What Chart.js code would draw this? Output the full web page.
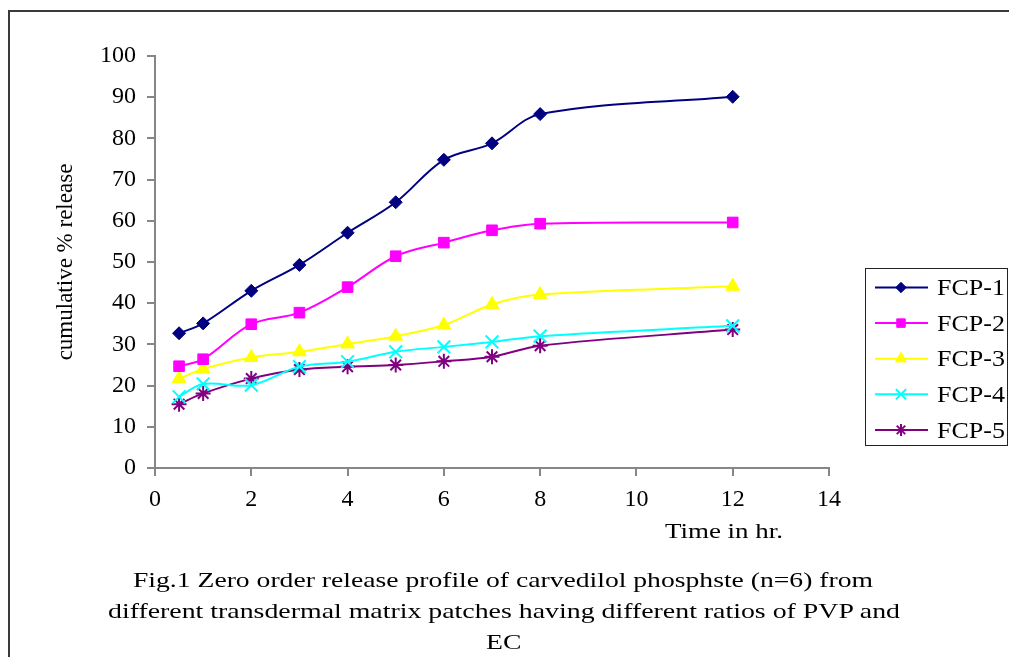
<!DOCTYPE html>
<html>
<head>
<meta charset="utf-8">
<script src="https://cdn.jsdelivr.net/npm/chart.js@4.4.0/dist/chart.umd.min.js"></script>
<style>
  html, body { margin: 0; padding: 0; background: #fff; width: 1009px; height: 657px; overflow: hidden; }
  #wrap { position: relative; width: 1009px; height: 657px; overflow: hidden; }
  #frame { position: absolute; left: 8px; top: 10px; width: 1020px; height: 700px;
           border-top: 2px solid #3a3a3a; border-left: 2px solid #3a3a3a; }
  #chart { position: absolute; left: 0; top: 0; }
  .txt { position: absolute; font-family: "Liberation Serif", "Times New Roman", serif; font-size: 22px;
         line-height: 31px; color: #000; white-space: nowrap; transform-origin: 0 0; }
</style>
</head>
<body>
<div id="wrap">
  <div id="frame"></div>
  <canvas id="chart" width="1009" height="657"></canvas>
  <div class="txt" id="xTitle" style="top:515px;">Time in hr.</div>
  <div class="txt" id="cap1" style="top:564px;">Fig.1 Zero order release profile of carvedilol phosphste (n=6) from</div>
  <div class="txt" id="cap2" style="top:595px;">different transdermal matrix patches having different ratios of PVP and</div>
  <div class="txt" id="cap3" style="top:626px;">EC</div>
</div>
<script>
// 数据
const timeHr = [0.5, 1, 2, 3, 4, 5, 6, 7, 8, 12];
const fcp1 = [32.7, 35.1, 43.0, 49.3, 57.1, 64.5, 74.8, 78.8, 85.9, 90.1];
const fcp2 = [24.7, 26.4, 34.9, 37.7, 43.9, 51.4, 54.7, 57.7, 59.3, 59.6];
const fcp3 = [21.7, 24.0, 26.8, 28.2, 30.1, 32.0, 34.7, 39.7, 42.1, 44.1];
const fcp4 = [17.3, 20.4, 20.1, 24.6, 25.8, 28.2, 29.4, 30.6, 32.0, 34.5];
const fcp5 = [15.5, 18.1, 21.7, 23.9, 24.6, 25.0, 25.9, 27.0, 29.7, 33.6];

const seriesNames = ['FCP-1', 'FCP-2', 'FCP-3', 'FCP-4', 'FCP-5'];
const seriesValues = [fcp1, fcp2, fcp3, fcp4, fcp5];
const seriesColors = ['#000080', '#ff00ff', '#ffff00', '#00ffff', '#800080'];
const seriesMarkers = ['rectRot', 'rect', 'triangle', 'crossRot', 'star'];
const markerRadius = [6.5, 7.5, 8, 9, 7.5];

const serif = '"Liberation Serif", "Times New Roman", serif';

// 把文字横向拉伸到参考图的宽度
function stretchText(id, left, width) {
    const el = document.getElementById(id);
    const w = el.getBoundingClientRect().width;
    el.style.left = left + 'px';
    el.style.transform = 'scaleX(' + (width / w) + ')';
    return width / w;
}
const capScale = stretchText('cap1', 133, 740);
stretchText('cap2', 108, 792);
stretchText('xTitle', 665, 118);
(function() {
    const el = document.getElementById('cap3');
    const w = el.getBoundingClientRect().width * capScale;
    el.style.left = (504 - w / 2) + 'px';
    el.style.transform = 'scaleX(' + capScale + ')';
})();

// 图例（带边框，线 + 标记）
const boxLegend = {
    id: 'boxLegend',
    afterDraw(chart) {
        const ctx = chart.ctx;
        ctx.save();
        ctx.strokeStyle = '#222';
        ctx.lineWidth = 1;
        ctx.strokeRect(865.5, 268.5, 142, 177);
        chart.data.datasets.forEach((ds, i) => {
            const y = 287.5 + i * 35.6;
            ctx.strokeStyle = ds.borderColor;
            ctx.lineWidth = 2;
            ctx.beginPath();
            ctx.moveTo(875, y);
            ctx.lineTo(928, y);
            ctx.stroke();
            if (Chart.helpers && Chart.helpers.drawPoint) {
                ctx.fillStyle = ds.pointBackgroundColor;
                ctx.strokeStyle = ds.pointBorderColor;
                ctx.lineWidth = ds.pointBorderWidth;
                Chart.helpers.drawPoint(ctx, {
                    pointStyle: ds.pointStyle,
                    radius: ds.pointRadius * 0.8,
                    borderWidth: ds.pointBorderWidth,
                    rotation: 0
                }, 901, y);
            }
            ctx.save();
            ctx.translate(937, y + 7.7);
            ctx.scale(1.13, 1);
            ctx.fillStyle = '#000';
            ctx.font = '23px ' + serif;
            ctx.textBaseline = 'alphabetic';
            ctx.fillText(ds.label, 0, 0);
            ctx.restore();
        });
        ctx.restore();
    }
};

const datasets = seriesNames.map((name, i) => ({
    label: name,
    data: timeHr.map((t, j) => ({ x: t, y: seriesValues[i][j] })),
    borderColor: seriesColors[i],
    backgroundColor: seriesColors[i],
    borderWidth: 2,
    tension: 0.35,
    fill: false,
    pointStyle: seriesMarkers[i],
    pointRadius: markerRadius[i],
    pointBackgroundColor: seriesColors[i],
    pointBorderColor: seriesColors[i],
    pointBorderWidth: (seriesMarkers[i] === 'crossRot' || seriesMarkers[i] === 'star') ? 2 : 1
}));

const axisGray = '#868686';

new Chart(document.getElementById('chart'), {
    type: 'line',
    data: { datasets: datasets },
    plugins: [boxLegend],
    options: {
        responsive: false,
        devicePixelRatio: 1,
        animation: false,
        layout: { padding: { top: 56, right: 180, bottom: 0, left: 0 } },
        plugins: {
            legend: { display: false },
            tooltip: { enabled: false }
        },
        scales: {
            x: {
                type: 'linear',
                min: 0,
                max: 14,
                afterFit: function(scale) { scale.height = 189; },
                ticks: {
                    stepSize: 2,
                    color: '#000',
                    padding: 9,
                    maxRotation: 0,
                    font: { family: serif, size: 24 }
                },
                grid: { drawOnChartArea: false, drawTicks: true, tickLength: 8, color: axisGray, lineWidth: 2 },
                border: { display: true, color: axisGray, width: 2 }
            },
            y: {
                min: 0,
                max: 100,
                afterFit: function(scale) { scale.width = 155; },
                ticks: {
                    stepSize: 10,
                    color: '#000',
                    padding: 11,
                    font: { family: serif, size: 24 }
                },
                grid: { drawOnChartArea: false, drawTicks: true, tickLength: 8, color: axisGray, lineWidth: 2 },
                border: { display: true, color: axisGray, width: 2 },
                title: {
                    display: true,
                    text: 'cumulative % release',
                    color: '#000',
                    font: { family: serif, size: 23 },
                    padding: { top: 52, bottom: 0 }
                }
            }
        }
    }
});
</script>
</body>
</html>
